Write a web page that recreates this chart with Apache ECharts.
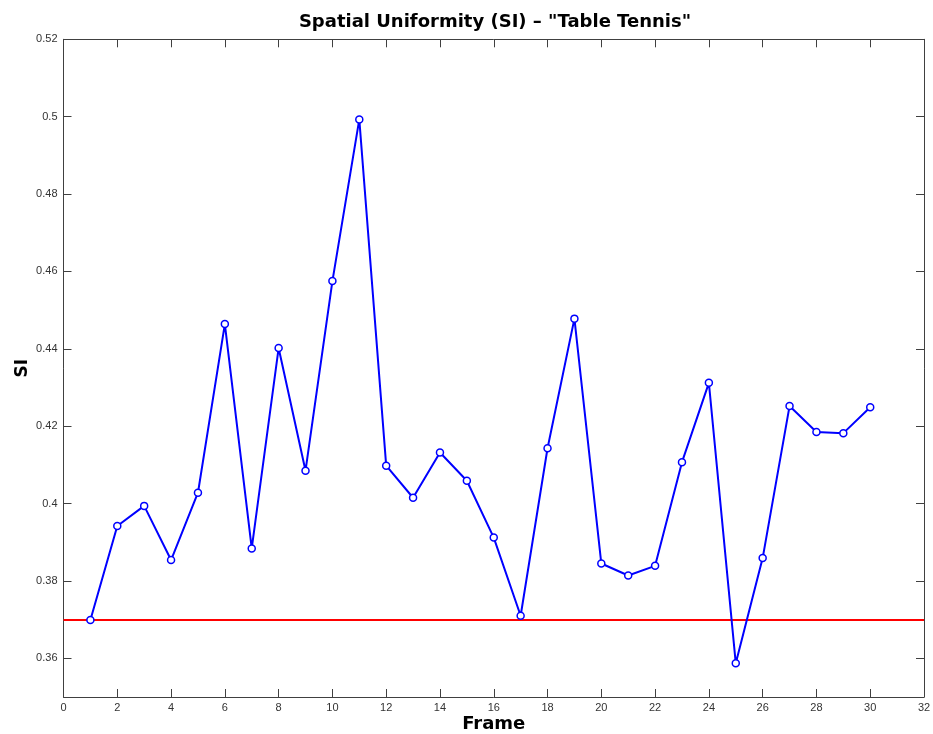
<!DOCTYPE html>
<html><head><meta charset="utf-8">
<script src="https://cdn.jsdelivr.net/npm/echarts@6/dist/echarts.min.js"></script>
<style>html,body{margin:0;padding:0;background:#fff}#c{width:933px;height:734px}</style>
</head><body><div id="c"></div>
<script>
const frames = [1,2,3,4,5,6,7,8,9,10,11,12,13,14,15,16,17,18,19,20,21,22,23,24,25,26,27,28,29,30];
const siValues = [0.3699,0.3942,0.3994,0.3854,0.4028,0.4464,0.3884,0.4402,0.4085,0.4575,0.4993,0.4098,0.4015,0.4132,0.4059,0.3912,0.3710,0.4143,0.4478,0.3845,0.3814,0.3839,0.4107,0.4312,0.3587,0.3859,0.4252,0.4185,0.4182,0.4249];
const thresholdValue = 0.3699;
const thresholdRange = [0, 32];
const xTicks = [0,2,4,6,8,10,12,14,16,18,20,22,24,26,28,30,32];
const yTicks = [0.36,0.38,0.40,0.42,0.44,0.46,0.48,0.50,0.52];

const axisColor = '#404040';
const labelStyle = {color:'#333', fontFamily:'Liberation Sans, Arial, sans-serif', fontSize:11};
const fmtY = v => String(parseFloat(v.toFixed(2)));
const heavy = {fontFamily:'DejaVu Sans, sans-serif', fontWeight:'900', color:'#000'};

const chart = echarts.init(document.getElementById('c'));
chart.setOption({
  animation:false,
  backgroundColor:'#fff',
  title:{text:'Spatial Uniformity (SI) – "Table Tennis"', left:490, textAlign:'center', top:8,
    textStyle:{...heavy, fontSize:18}},
  grid:{left:63.5, right:9, top:39.3, bottom:37, containLabel:false, outerBoundsMode:'none'},
  xAxis:[{type:'value', min:0, max:32, interval:2, position:'bottom',
      name:'Frame', nameLocation:'middle', nameGap:18, nameMoveOverlap:false,
      nameTextStyle:{...heavy, fontSize:18},
      axisLine:{show:true, onZero:false, lineStyle:{color:axisColor, width:1}},
      axisTick:{show:true, inside:true, length:8, lineStyle:{color:axisColor}, customValues:xTicks},
      axisLabel:{...labelStyle, margin:5, customValues:xTicks},
      splitLine:{show:false}},
    {type:'value', min:0, max:32, interval:2, position:'top',
      axisLine:{show:true, onZero:false, lineStyle:{color:axisColor, width:1}},
      axisTick:{show:true, inside:true, length:8, lineStyle:{color:axisColor}, customValues:xTicks},
      axisLabel:{show:false}, splitLine:{show:false}}],
  yAxis:[{type:'value', min:0.35, max:0.52, position:'left',
      name:'SI', nameLocation:'middle', nameGap:32, nameRotate:90, nameMoveOverlap:false,
      nameTextStyle:{...heavy, fontSize:17},
      axisLine:{show:true, onZero:false, lineStyle:{color:axisColor, width:1}},
      axisTick:{show:true, inside:true, length:8, lineStyle:{color:axisColor}, customValues:yTicks},
      axisLabel:{...labelStyle, margin:6, customValues:yTicks, formatter:fmtY},
      splitLine:{show:false}},
    {type:'value', min:0.35, max:0.52, position:'right',
      axisLine:{show:true, onZero:false, lineStyle:{color:axisColor, width:1}},
      axisTick:{show:true, inside:true, length:8, lineStyle:{color:axisColor}, customValues:yTicks},
      axisLabel:{show:false}, splitLine:{show:false}}],
  series:[
    {type:'line', xAxisIndex:0, yAxisIndex:0,
      data:thresholdRange.map(x=>[x, thresholdValue]),
      symbol:'none', lineStyle:{color:'#ff0000', width:2}, z:2},
    {type:'line', xAxisIndex:0, yAxisIndex:0,
      data:frames.map((f,i)=>[f, siValues[i]]),
      symbol:'circle', symbolSize:7, showAllSymbol:true,
      itemStyle:{color:'#fff', borderColor:'#0000ff', borderWidth:1.5},
      lineStyle:{color:'#0000ff', width:2}, z:3}
  ]
});
</script></body></html>
